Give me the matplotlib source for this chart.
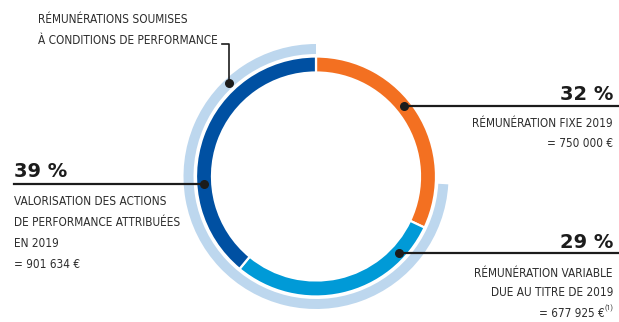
import numpy as np
import matplotlib.pyplot as plt
from matplotlib import font_manager
from matplotlib.font_manager import FontProperties
from matplotlib.patches import Wedge

# Data
labels = ["Rémunération fixe 2019", "Rémunération variable", "Actions de performance"]
shares = [32, 29, 39]
pct_text = ["32 %", "29 %", "39 %"]
colors = ["#F37021", "#009AD7", "#0050A2"]
light_blue = "#BDD7EE"
# outer band "soumises à conditions de performance" (start / end angle in degrees)
band_start, band_end = 90, 356.6

# look for a condensed face for the labels, otherwise Roboto
cands = []
for f in font_manager.fontManager.ttflist:
    if f.style != "normal":
        continue
    narrowish = ("Condensed" in f.name or "Narrow" in f.name
                 or str(f.stretch) in ("condensed", "semi-condensed", "extra-condensed"))
    if narrowish:
        w = f.weight if isinstance(f.weight, int) else 400
        cands.append((abs(w - 400), f.fname))
cands.sort()
if cands:
    label_prop = FontProperties(fname=cands[0][1])
else:
    label_prop = FontProperties(family="Roboto")

W, H = 619, 322
fig = plt.figure(figsize=(W / 100, H / 100), dpi=100)
ax = fig.add_axes([0, 0, 1, 1])

# size the labels so the longest left line stays clear of the ring
renderer = fig.canvas.get_renderer()
probe = fig.text(0, 0, "DE PERFORMANCE ATTRIBUÉES", fontproperties=label_prop, fontsize=10)
pw = probe.get_window_extent(renderer).width
probe.remove()
fs = min(11.5, 10 * 166 / pw)
label_prop.set_size(fs)


def py(y):
    # pixel row (from top) -> data y
    return H - y


cx, cy = 316, py(176.5)

ax.pie(shares, colors=colors, startangle=90, counterclock=False,
       radius=120, center=(cx, cy), frame=True,
       wedgeprops=dict(width=16, edgecolor="white", linewidth=1.6))
ax.add_patch(Wedge((cx, cy), 132.5, band_start, band_end, width=10,
                   facecolor=light_blue, edgecolor="none"))

ax.set_xlim(0, W)
ax.set_ylim(0, H)
ax.set_aspect("equal")
ax.axis("off")

ink = "#1c1c1c"
txt = "#2d2d2d"


def dot_at(angle, r):
    a = np.deg2rad(angle)
    return cx + r * np.cos(a), cy + r * np.sin(a)


def label(x, y, s, ha="left", **kw):
    return ax.text(x, py(y), s, ha=ha, va="baseline", color=txt,
                   fontproperties=label_prop, **kw)


# 32 % - fixed
x0, y0 = dot_at(38.5, 113)
ax.plot([x0, W], [y0, y0], color=ink, lw=1.6)
ax.scatter([x0], [y0], s=30, color=ink, zorder=5)
ax.text(613, py(100), pct_text[0], ha="right", va="baseline",
        fontsize=14, fontweight="bold", color=ink)
label(613, 126.7, "RÉMUNÉRATION FIXE 2019", ha="right")
label(613, 146.7, "= 750 000 €", ha="right")

# 29 % - variable
x1, y1 = dot_at(-42.7, 113)
ax.plot([x1, W], [y1, y1], color=ink, lw=1.6)
ax.scatter([x1], [y1], s=30, color=ink, zorder=5)
ax.text(613, py(248.3), pct_text[1], ha="right", va="baseline",
        fontsize=14, fontweight="bold", color=ink)
label(613, 276.7, "RÉMUNÉRATION VARIABLE", ha="right")
label(613, 296, "DUE AU TITRE DE 2019", ha="right")
label(605, 316.7, "= 677 925 €", ha="right")
ax.text(613, py(310), "(1)", ha="right", va="baseline",
        fontsize=5, color=txt, family="Roboto")

# 39 % - performance shares
x2, y2 = dot_at(183.8, 112)
ax.plot([14, x2], [y2, y2], color=ink, lw=1.6)
ax.scatter([x2], [y2], s=30, color=ink, zorder=5)
ax.text(14, py(177.3), pct_text[2], ha="left", va="baseline",
        fontsize=14, fontweight="bold", color=ink)
for i, line in enumerate(["VALORISATION DES ACTIONS",
                          "DE PERFORMANCE ATTRIBUÉES",
                          "EN 2019",
                          "= 901 634 €"]):
    label(14, 205 + 21 * i, line)

# outer band label
label(38, 23.3, "RÉMUNÉRATIONS SOUMISES")
t = label(38, 44.3, "À CONDITIONS DE PERFORMANCE")
x3, y3 = dot_at(133, 128)
x_end = ax.transData.inverted().transform(
    (t.get_window_extent(renderer).x1, 0))[0] + 4
x_end = min(x_end, x3 - 6)
ax.plot([x_end, x3, x3], [py(44), py(44), y3], color=ink, lw=1.2)
ax.scatter([x3], [y3], s=30, color=ink, zorder=5)

fig.savefig("out.png", dpi=100)
